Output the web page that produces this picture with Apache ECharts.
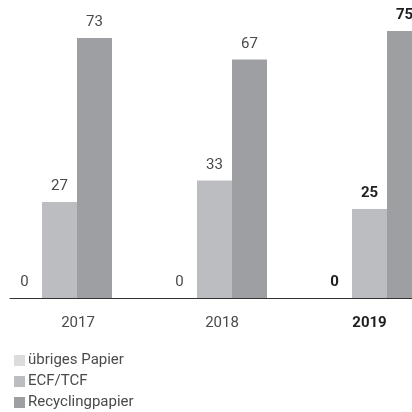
<!DOCTYPE html>
<html>
<head>
<meta charset="utf-8">
<style>
  html, body { margin: 0; padding: 0; background: #fff; }
  #chart { width: 412px; height: 412px; }
</style>
<script src="https://cdn.jsdelivr.net/npm/echarts@6/dist/echarts.min.js"></script>
</head>
<body>
<div id="chart"></div>
<script>
const years = ['2017', '2018', '2019'];
const boldYear = '2019';
const seriesNames = ['übriges Papier', 'ECF/TCF', 'Recyclingpapier'];
const otherPaper = [0, 0, 0];
const ecfTcf = [27, 33, 25];
const recycling = [73, 67, 75];
const colors = ['#dcdcde', '#bcbdc1', '#9e9fa3'];

const font = 'Roboto, "Noto Sans", sans-serif';

const toData = (values) =>
  values.map((v, i) =>
    years[i] === boldYear
      ? { value: v, label: { fontWeight: 'bold', color: '#1e1e1e' } }
      : v
  );

const makeSeries = (name, values, color) => ({
  name,
  type: 'bar',
  xAxisIndex: 0,
  yAxisIndex: 0,
  barWidth: 35,
  barGap: '0%',
  itemStyle: { color },
  label: {
    show: true,
    position: 'top',
    distance: 8,
    fontFamily: font,
    fontSize: 15,
    color: '#4a4a4a'
  },
  data: toData(values)
});

// the year labels sit a bit right of the group centres in the original
const yearLabelRich = {
  y0: { fontFamily: font, fontSize: 15, color: '#4a4a4a', padding: [0, 0, 0, 37] },
  y1: { fontFamily: font, fontSize: 15, color: '#4a4a4a', padding: [0, 0, 0, 15] },
  y2: { fontFamily: font, fontSize: 15, color: '#1e1e1e', fontWeight: 'bold' }
};

const getOptions = () => ({
  animation: false,
  color: colors,
  textStyle: { fontFamily: font },
  legend: {
    orient: 'vertical',
    left: 9,
    top: 348,
    height: 64,
    icon: 'rect',
    itemWidth: 11,
    itemHeight: 11,
    itemGap: 6,
    textStyle: { fontFamily: font, fontSize: 15, lineHeight: 15, color: '#4a4a4a', padding: [0, 0, 0, -2] },
    data: seriesNames
  },
  grid: [
    { left: -18, right: -35, top: 31, bottom: 114, outerBoundsMode: 'none' },
    { left: 10, right: 0, top: 31, bottom: 114, outerBoundsMode: 'none' }
  ],
  xAxis: [
    {
      type: 'category',
      gridIndex: 0,
      data: years,
      axisLine: { show: false },
      axisTick: { show: false },
      axisLabel: {
        margin: 18,
        formatter: (v, i) => '{y' + i + '|' + v + '}',
        rich: yearLabelRich
      }
    },
    {
      type: 'value',
      gridIndex: 1,
      axisLine: { show: true, onZero: false, lineStyle: { color: '#333', width: 1 } },
      axisTick: { show: false },
      axisLabel: { show: false },
      splitLine: { show: false }
    }
  ],
  yAxis: [
    { type: 'value', gridIndex: 0, min: 0, max: 75, show: false },
    { type: 'value', gridIndex: 1, show: false }
  ],
  series: [
    makeSeries(seriesNames[0], otherPaper, colors[0]),
    makeSeries(seriesNames[1], ecfTcf, colors[1]),
    makeSeries(seriesNames[2], recycling, colors[2])
  ]
});

const chart = echarts.init(document.getElementById('chart'), null, { renderer: 'canvas' });
chart.setOption(getOptions());
</script>
</body>
</html>
